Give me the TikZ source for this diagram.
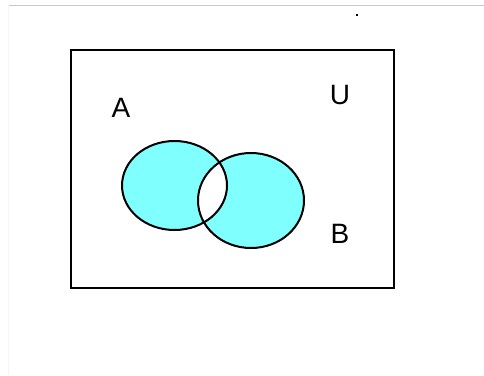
\documentclass[tikz,border=0pt]{standalone}
\usepackage{fontspec}
\setmainfont{Liberation Sans}
\definecolor{setfill}{RGB}{128,255,255}
\definecolor{rulegray}{RGB}{200,200,200}
\begin{document}
\begin{tikzpicture}[x=1pt,y=-1pt,
  outline/.style={draw=black,line width=2pt},
  lbl/.style={font=\fontsize{28}{28}\selectfont,inner sep=0pt}]
\useasboundingbox[fill=white] (0,0) rectangle (484,375);
% top rule and faint left edge
\draw[rulegray,line width=1pt] (8,5) -- (484,5);
\draw[black!4,line width=1pt] (8,5) -- (8,375);
\fill[black] (356,14) rectangle (358,16);
% universe
\draw[outline] (71,50) rectangle (394,288);
% sets
\fill[setfill] (174.5,185.5) ellipse (52.5 and 44.5);
\fill[setfill] (251,200.5) ellipse (53 and 47.5);
\begin{scope}
  \clip (174.5,185.5) ellipse (52.5 and 44.5);
  \fill[white] (251,200.5) ellipse (53 and 47.5);
\end{scope}
\draw[outline] (174.5,185.5) ellipse (52.5 and 44.5);
\draw[outline] (251,200.5) ellipse (53 and 47.5);
% labels
\node[lbl] (la) at (121,108) {A};
\node[lbl] (lu) at (340,95) {U};
\node[lbl] (lb) at (340,234) {B};
\end{tikzpicture}
\end{document}
